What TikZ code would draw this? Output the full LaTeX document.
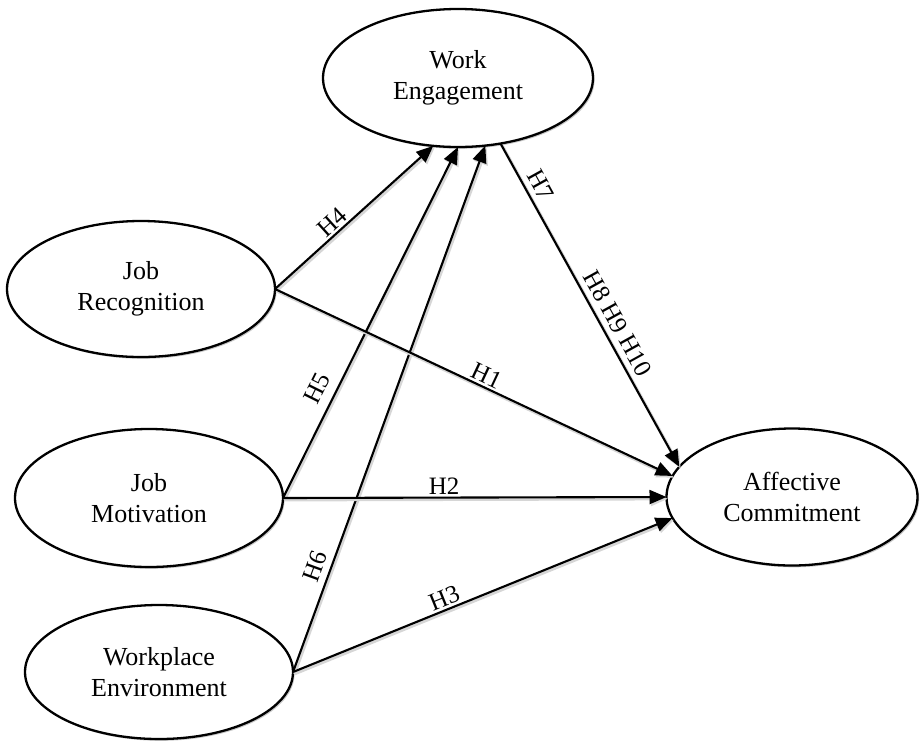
\documentclass[tikz,border=0pt]{standalone}
\usepackage{fontspec}
\setmainfont{Liberation Serif}
\usetikzlibrary{shapes.geometric,arrows.meta,shadows}
\begin{document}
\begin{tikzpicture}[x=1pt,y=-1pt,
  construct/.style={draw, ellipse, fill=white, line width=2.3pt, inner sep=0pt, outer sep=0pt,
    align=center, font=\fontsize{26}{31}\selectfont,
    drop shadow={shadow xshift=1.6pt, shadow yshift=-1.8pt, opacity=0.22, fill=black}},
  path/.style={draw, line width=2.1pt, -{Triangle[length=17pt,width=14pt]},
    preaction={draw=black!16, line width=3.2pt, transform canvas={shift={(1.4pt,-1.8pt)}}}},
  hyp/.style={font=\fontsize{25}{30}\selectfont, sloped, above, inner sep=2pt}]
\useasboundingbox (0,0) rectangle (920,740);

% latent constructs
\node[construct, minimum width=270pt, minimum height=138pt] (we)  at (458,78)  {Work\\Engagement};
\node[construct, minimum width=268pt, minimum height=136pt] (jr)  at (141,289) {Job\\Recognition};
\node[construct, minimum width=268pt, minimum height=138pt] (jm)  at (149,498) {Job\\Motivation};
\node[construct, minimum width=268pt, minimum height=134pt] (wpe) at (159,672) {Workplace\\Environment};
\node[construct, minimum width=251pt, minimum height=137pt] (ac)  at (792,497) {Affective\\Commitment};

% hypothesised paths to work engagement
\draw[path] (jr.east)  -- node[hyp, pos=0.41] {H4} (we.250);
\draw[path] (jm.east)  -- node[hyp, pos=0.29, above=7pt] {H5} (we.270);
\draw[path] (wpe.east) -- node[hyp, pos=0.19, above=4pt] {H6} (we.292);

% hypothesised paths to affective commitment
\draw[path] (jr.east)  -- node[hyp, pos=0.52] {H1} (ac.170);
\draw[path] (jm.east)  -- node[hyp, pos=0.42] {H2} (ac.west);
\draw[path] (wpe.east) -- node[hyp, pos=0.41] {H3} (ac.190);
\draw[path] (we.303)   -- node[hyp, pos=0.15, above=4pt] {H7}
                          node[hyp, pos=0.58, above=4pt] {H8 H9 H10} (ac.165);
\end{tikzpicture}
\end{document}
